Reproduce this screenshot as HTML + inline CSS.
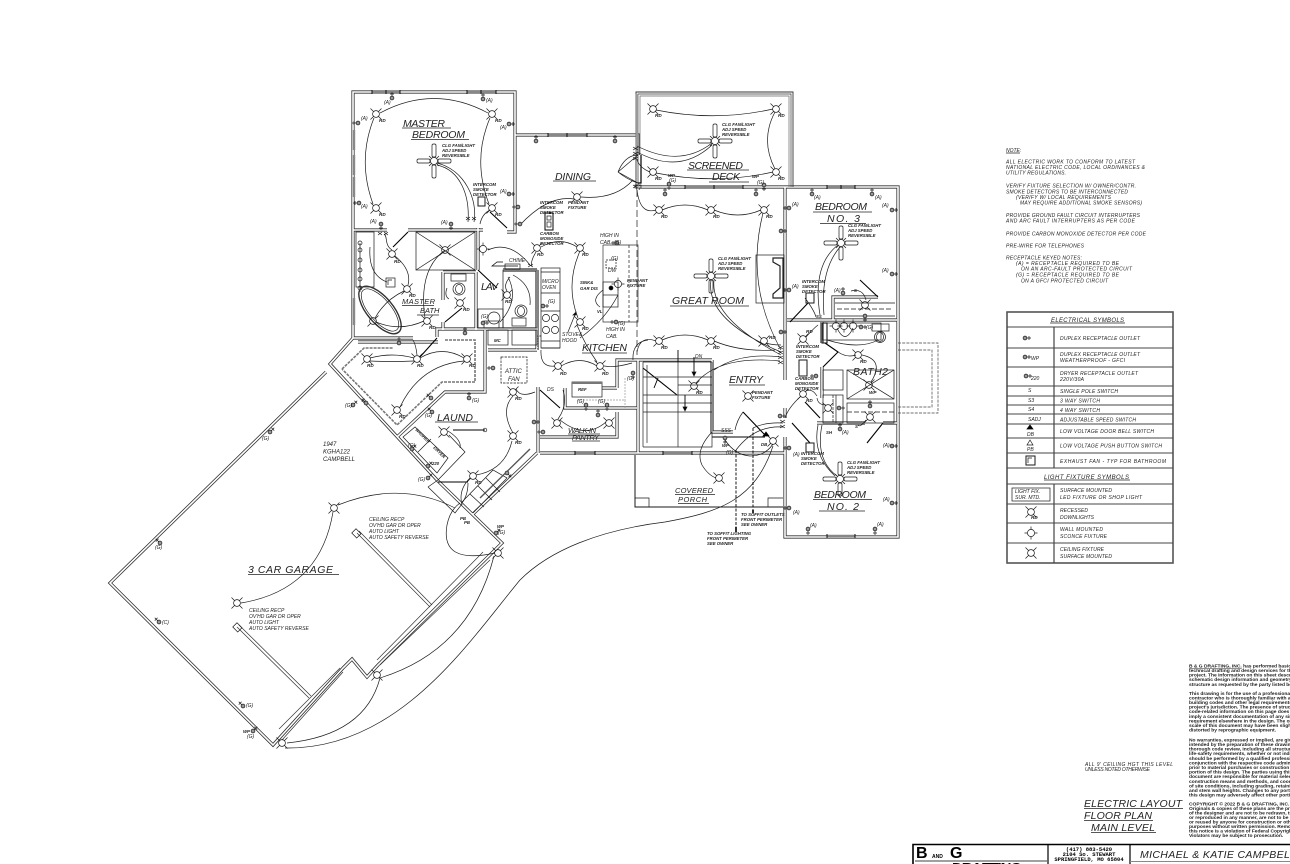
<!DOCTYPE html>
<html><head><meta charset="utf-8"><title>Electric Layout</title>
<style>
html,body{margin:0;padding:0;background:#fff;width:1290px;height:864px;overflow:hidden}
svg{display:block}
text{font-family:"Liberation Sans",sans-serif;font-style:italic;fill:#222;stroke:none}
.l{font-size:10.5px}
.m{font-size:7.5px}
.n{font-size:5px}
.s{font-size:4.3px;font-weight:bold}
.r{font-size:4.6px;font-weight:bold}
.g{font-size:6px}
.c{font-size:5px}
.k{font-size:4.9px;font-style:normal;font-weight:bold;fill:#222}
</style></head><body>
<svg width="1290" height="864" viewBox="0 0 1290 864" xmlns="http://www.w3.org/2000/svg">
<defs>
<g id="r"><circle r="3.4"/><path d="M-2.4,-2.4L-5.5,-5.5M2.4,-2.4L5.5,-5.5M-2.4,2.4L-5.5,5.5M2.4,2.4L5.5,5.5"/></g>
<g id="sc"><circle r="3.6"/><path d="M0,-3.6V-6.5M0,3.6V6.5M-3.6,0H-6.5M3.6,0H6.5"/></g>
<g id="fan"><circle r="3.6" fill="#fff"/><path d="M-2.6,-2.6L-5,-5M2.6,-2.6L5,-5M-2.6,2.6L-5,5M2.6,2.6L5,5"/><rect x="-17" y="-2" width="13" height="4" rx="1.5"/><rect x="4" y="-2" width="13" height="4" rx="1.5"/><rect x="-2" y="-17" width="4" height="13" rx="1.5"/><rect x="-2" y="4" width="4" height="13" rx="1.5"/></g>
<g id="o"><circle r="1.9" fill="#999"/><path d="M2,0H6M4,-2V2" stroke-width=".7"/></g>
<path id="W" d="M353,338V92H515V135H638V155M638,185V190M515,135V232H507M353,230H387M408,230H483M478,228V270M443,272V300M443,322V330M443,272H476M476,272V330M437,337V329H537M353,338H413M485,330V392H445L397,437M353,338L330,364L438,481M358,342H438M537,270V350M503,270H537M488,350H537M538,387V453M540,453H635M635,453H785M617,388V360H640M602,388H617M565,388V408H637M617,412V437H540M638,360V453M712,360H640M712,360V432H733M785,187V380M785,408V418M785,437V537H898V187H636M833,320V297H878M860,320H787M833,320H897M822,322V343M822,367V398M817,423H865M883,423H897M473,514L537,453M438,481L502,543L378,665L367,677L352,659L343,668L273,745L110,583L326,372"/>
</defs>
<rect width="1290" height="864" fill="#fff"/>
<g fill="none" stroke="#1a1a1a" stroke-width=".7" stroke-linejoin="miter">

<!-- walls -->
<use href="#W" stroke="#333" stroke-width="3.2"/>
<use href="#W" stroke="#fff" stroke-width="1.6"/>

<!-- screened deck -->
<path d="M636,187V92H793V187" stroke="#333" stroke-width=".9"/>
<path d="M638,187V94H791V187" stroke="#333" stroke-width=".7"/>
<path d="M640,155V96H789V187" stroke="#666" stroke-width=".7"/>
<path d="M637,94V155" stroke="#999" stroke-width="2.5"/>

<!-- dashed great room left, porch -->
<path d="M637,190V355" stroke-dasharray="7 3" stroke-width=".7"/>
<path d="M635,455V507H783" stroke-width="1"/>
<path d="M635,498H649V507M768,507V498H783"/>
<rect x="635" y="185" width="6" height="3" />
<path d="M641,155V183H638" stroke="#000" stroke-width="1.2"/>

<!-- hatch wing -->
<path d="M342,369L364,348H393M445,340H475V382H442L397,425L342,369" stroke="#777" stroke-width="1.6" stroke-dasharray="3 1"/>

<!-- right dashed add-on -->
<path d="M898,343H938V413H898M898,350H932V407H898" stroke-dasharray="3 1.2" stroke="#444"/>

<!-- heavy door leaves -->
<path d="M408,232L393,247M490,212L507,228M462,308L445,322M420,357L437,338M478,270L497,288M453,430H485M438,482H468M540,390L560,408M743,412L765,435M712,437H765M860,280L878,297M790,322L808,303M825,343L838,352L823,367M805,402L820,418M792,423L810,443M867,443L883,423M643,368L677,395" stroke="#000" stroke-width="1.1"/>
<path d="M618,172Q625,155 638,155M618,172Q628,180 638,183M618,172L638,155M618,172L638,183" stroke-width=".7"/>
<path d="M743,412Q737,420 735,430"/>

<!-- windows -->
<path d="M372,92H400M467,92H496M548,135H587M685,187H743M827,187H855M827,536H855M575,453H595M663,453H692M354,130V150M354,155V175M354,177V197M354,298V325" stroke="#888" stroke-width="2.4"/>
<path d="M372,90V94M386,90V94M400,90V94M467,90V94M481,90V94M496,90V94M548,133V137M567,133V137M587,133V137M685,185V189M714,185V189M743,185V189M827,185V189M841,185V189M855,185V189M827,534V538M855,534V538M575,451V455M595,451V455M663,451V455M692,451V455" stroke="#000" stroke-width=".9"/>

<!-- bath shower -->
<rect x="416" y="232" width="59" height="38"/><path d="M416,232L475,270M475,232L416,270"/>
<rect x="356" y="232" width="18" height="55"/>
<path d="M360,243V292"/>
<circle cx="360" cy="243" r="2"/><circle cx="360" cy="250" r="2"/><circle cx="360" cy="260" r="2"/><circle cx="360" cy="270" r="2"/><circle cx="360" cy="279" r="2"/><circle cx="360" cy="288" r="2"/>
<rect x="386" y="278" width="9" height="9"/><path d="M388,285V280H392"/>
<ellipse cx="380" cy="310" rx="29" ry="13" transform="rotate(50 380 310)" stroke-width="1.4" stroke="#333"/>
<ellipse cx="380" cy="310" rx="26" ry="11" transform="rotate(50 380 310)"/>
<!-- toilets / lav -->
<rect x="451" y="274" width="15" height="7"/><circle cx="459" cy="289" r="6"/><ellipse cx="459" cy="289" rx="3.5" ry="4.5"/>
<path d="M447,288Q444,296 449,299"/>
<rect x="478" y="309" width="25" height="19"/><rect x="484" y="321" width="15" height="7"/><circle cx="494" cy="318" r="6"/>
<rect x="512" y="318" width="14" height="8"/><circle cx="521" cy="311" r="6"/><ellipse cx="521" cy="311" rx="3.5" ry="4.5"/>
<rect x="503" y="270" width="34" height="58"/>
<rect x="505" y="264" width="15" height="5"/>
<path d="M503,262H497L492,266H518" stroke="#000"/>
<!-- MC -->
<rect x="488" y="330" width="20" height="15"/><rect x="512" y="330" width="25" height="15"/>
<rect x="501" y="357" width="26" height="26" stroke-dasharray="2.5 1"/>
<!-- kitchen cabinets -->
<rect x="541" y="268" width="19" height="80"/>
<path d="M541,272H560M541,293H560M541,311H560M541,341H560M541,348H560"/>
<circle cx="546" cy="318" r="3.6"/><circle cx="555" cy="318" r="3.6"/><circle cx="546" cy="330" r="3.6"/><circle cx="555" cy="330" r="3.6"/>
<path d="M541,336H538V350" stroke="#555" stroke-dasharray="1.5 1" stroke-width="1.5"/>
<path d="M568,332L576,312" /><path d="M576,312l-3,3h3z" fill="#000"/>
<!-- island -->
<path d="M603,245H638V322H603V245" stroke="#333"/>
<path d="M629,245V322" stroke-dasharray="3 2"/>
<rect x="603" y="282" width="15" height="25"/><path d="M603,295H618"/><circle cx="611" cy="288" r="2" fill="#000"/>
<rect x="606" y="260" width="10" height="8" stroke-dasharray="2 1"/>
<rect x="545" y="213" width="8" height="17" stroke-width="1.1"/><rect x="547" y="216" width="4" height="4"/><rect x="547" y="222" width="4" height="5"/>
<rect x="478" y="197" width="7" height="9" stroke-width="1"/><rect x="806" y="293" width="8" height="10" stroke-width="1"/><rect x="799" y="360" width="8" height="16" stroke-width="1"/><rect x="806" y="443" width="8" height="9" stroke-width="1"/>

<!-- laundry -->
<path d="M403,437L415,427L448,458L437,473ZM418,452L431,439M449,435L465,452L438,480M428,487L455,513L462,504M428,487L438,480"/>
<circle cx="485" cy="430" r="1.8"/>
<path d="M462,502L493,470L507,478L473,513M470,494L484,507M478,486L492,500M486,478L500,492"/>
<path d="M480,498L530,449" stroke="#555" stroke-width="1.4"/>

<!-- ref / pantry -->
<rect x="572" y="382" width="30" height="15"/><path d="M572,383H602" stroke="#777" stroke-width="2"/>
<path d="M577,400H625V408M625,378V402" stroke="#999" stroke-dasharray="2 1"/>
<!-- stairs -->
<path d="M643,362H712M643,447H712V362M643,362V447M678,362V447M643,377H678M643,395H678M643,403H678M643,412H678M678,377H712M678,385H712M678,395H712M678,403H712M678,412H712M647,365V443" stroke="#222"/>
<path d="M678,350V362M694,357V375M685,395V410M658,378L654,388" stroke="#000" stroke-width=".9"/>
<path d="M694,376l-2,-4h4zM685,411l-2,-4h4z" fill="#000"/>
<!-- fireplace -->
<rect x="756" y="255" width="28" height="48"/>
<path d="M773,258H783V298H773V294L780,288V266L773,262Z" stroke="#222" stroke-width="1.2"/>
<!-- bath 2 & bed 3 closet -->
<path d="M835,303H895M835,316H895"/><path d="M837,309H893" stroke-dasharray="5 2"/>
<rect x="823" y="323" width="58" height="17"/><rect x="822" y="323" width="5" height="20" stroke-width="1.1"/>
<rect x="872" y="324" width="17" height="7"/><circle cx="880" cy="337" r="5.5"/><ellipse cx="880" cy="337" rx="3.5" ry="4.5"/>
<rect x="847" y="370" width="47" height="29"/><path d="M847,370L894,399M894,370L847,399"/>
<rect x="823" y="370" width="20" height="20"/><rect x="823" y="395" width="20" height="28"/><path d="M833,395V423" stroke-dasharray="3 1"/><path d="M836,395V423"/>
<rect x="847" y="403" width="47" height="20"/><path d="M847,412H894" stroke-dasharray="5 2"/>
<!-- garage interior -->
<path d="M279,729L340,668M282,740L343,672M377,660L483,552M380,665L490,560" stroke="#333"/>
<path d="M357,533L430,607M359,531L432,605M237,627L309,698M239,625L311,696" stroke="#333"/>
<rect x="353" y="530" width="7" height="6" transform="rotate(45 356 533)"/><rect x="234" y="624" width="7" height="6" transform="rotate(45 237 627)"/>

<!-- wires -->
<path d="M380,113Q434,84 488,113M374,118Q357,160 373,204M490,118Q472,160 489,204M437,165C460,170 470,195 468,222M437,163C465,170 478,200 474,222M490,210Q482,214 480,224M392,250C384,245 388,236 384,234M395,256Q412,270 408,285M404,291Q385,300 375,318M376,322Q400,332 424,321M445,250Q418,270 425,318M370,247Q368,275 387,282M414,358Q392,352 370,358M414,361Q392,362 370,361M420,358Q442,345 464,358M417,355Q416,345 413,340M464,361Q420,365 400,407M488,250Q510,240 530,265M536,252Q530,262 532,266M541,247Q560,236 577,247M580,251Q565,285 578,318M510,277Q503,285 507,291M508,277Q520,300 500,322M513,275Q532,285 530,305M574,199Q548,195 520,225M581,197Q615,200 633,180M541,350Q540,368 555,366M561,366Q580,355 597,366M604,366Q615,368 632,363M577,325Q585,345 597,362M618,295Q605,320 580,338M603,290Q590,300 600,307M633,360Q632,342 648,340M637,352Q640,335 656,341M662,340Q685,330 708,340M714,341Q740,352 775,350M637,190Q640,215 656,210M662,210Q685,200 708,210M714,210Q738,220 761,210M763,213Q745,285 781,350M711,280Q705,320 781,352M714,280Q710,318 781,355M766,343Q772,345 781,345M714,370Q740,352 781,357M696,383Q720,355 780,361M656,110Q715,122 773,109M775,112Q760,140 775,169M656,173Q715,185 773,172M712,143Q680,168 637,146M712,145Q680,175 637,152M650,172Q640,168 637,160M838,245Q812,265 820,315M840,247Q820,270 824,315M805,298Q814,310 816,317M851,291Q863,288 866,300M806,337Q814,328 818,325M837,328Q845,345 853,328M827,340Q860,350 878,340M838,352Q847,358 856,355M862,355Q885,360 871,382M773,444Q765,456 750,456Q735,455 725,440M783,423Q765,422 753,428M783,427Q755,425 736,450M773,446C755,500 720,512 665,522C600,530 550,550 520,580C470,640 400,750 285,748M380,678Q470,650 494,556M287,743Q365,735 380,678M495,553Q440,565 447,525Q450,510 460,503M338,505Q400,480 455,508M333,512Q320,590 241,603M476,475Q505,470 512,441M513,433Q500,410 513,396M516,389Q520,398 535,392M470,478Q458,490 462,505M468,483Q468,495 462,503M448,431Q462,440 460,448M560,420Q585,440 606,422M558,419Q568,405 563,390M712,432Q695,450 702,465Q708,475 716,478M801,396Q788,408 785,418M826,405Q818,405 817,398M866,420Q860,428 858,425M837,476Q815,460 822,425M835,476Q812,455 818,425M806,391Q812,388 817,396"/>
<path d="M736,450V527M753,428V510" stroke="#000" stroke-dasharray="3 1.5" stroke-width=".9"/>
<path d="M736,527V532M753,510V513" stroke="#000" stroke-width="1.6"/>
<!-- switch clusters -->
<path d="M778,346l5,3m-5,0l5,-3M778,351l5,3m-5,0l5,-3M778,356l5,3m-5,0l5,-3M778,361l5,3m-5,0l5,-3M633,147l5,3m-5,0l5,-3M633,152l5,3m-5,0l5,-3M633,157l5,3m-5,0l5,-3M633,185l5,3m-5,0l5,-3M528,264l5,3m-5,0l5,-3M780,420l5,3m-5,0l5,-3M780,425l5,3m-5,0l5,-3M466,217l4,3m-4,0l4,-3M472,217l4,3m-4,0l4,-3M378,232l4,3m-4,0l4,-3M384,232l4,3m-4,0l4,-3"/>

<!-- fixtures -->
<use href="#fan" x="434" y="161"/><use href="#fan" x="715" y="141"/><use href="#fan" x="711" y="276"/><use href="#fan" x="841" y="243"/><use href="#fan" x="840" y="479"/>
<use href="#r" x="376" y="114"/><use href="#r" x="492" y="114"/><use href="#r" x="376" y="208"/><use href="#r" x="492" y="208"/><use href="#r" x="392" y="254"/><use href="#r" x="407" y="289"/><use href="#r" x="427" y="321"/><use href="#r" x="373" y="321"/><use href="#r" x="460" y="303"/><use href="#r" x="507" y="295"/><use href="#r" x="537" y="248"/><use href="#r" x="580" y="248"/><use href="#r" x="580" y="322"/><use href="#r" x="558" y="366"/><use href="#r" x="600" y="366"/><use href="#r" x="417" y="359"/><use href="#r" x="367" y="359"/><use href="#r" x="467" y="359"/><use href="#r" x="577" y="197"/>
<use href="#r" x="653" y="109"/><use href="#r" x="776" y="109"/><use href="#r" x="653" y="172"/><use href="#r" x="776" y="172"/><use href="#r" x="659" y="210"/><use href="#r" x="711" y="210"/><use href="#r" x="764" y="210"/><use href="#r" x="659" y="341"/><use href="#r" x="711" y="341"/><use href="#r" x="764" y="341"/><use href="#r" x="803" y="339"/><use href="#r" x="858" y="355"/><use href="#r" x="803" y="394"/><use href="#r" x="694" y="386"/><use href="#r" x="748" y="396"/><use href="#r" x="773" y="441"/><use href="#r" x="719" y="478"/><use href="#r" x="557" y="423"/><use href="#r" x="609" y="423"/>
<use href="#r" x="334" y="508"/><use href="#r" x="237" y="603"/><use href="#r" x="377" y="675"/><use href="#r" x="282" y="743"/><use href="#r" x="498" y="553"/><use href="#r" x="444" y="432"/><use href="#r" x="397" y="410"/><use href="#r" x="513" y="392"/><use href="#r" x="513" y="436"/><use href="#r" x="473" y="476"/><use href="#r" x="869" y="385"/><use href="#r" x="445" y="250"/><use href="#r" x="865" y="305"/><use href="#r" x="870" y="417"/><use href="#r" x="828" y="408"/>
<use href="#sc" x="483" y="249"/><use href="#sc" x="836" y="326"/><use href="#sc" x="844" y="326"/><use href="#sc" x="853" y="326"/><use href="#sc" x="618" y="284"/>

<!-- outlets -->
<g>
<use href="#o" transform="translate(392,98) rotate(-90)"/><use href="#o" transform="translate(483,99) rotate(-90)"/><use href="#o" transform="translate(358,123) rotate(180)"/><use href="#o" transform="translate(509,124)"/><use href="#o" transform="translate(359,203) rotate(180)"/><use href="#o" transform="translate(509,194)"/><use href="#o" transform="translate(381,224) rotate(90)"/><use href="#o" transform="translate(451,224) rotate(90)"/>
<use href="#o" transform="translate(536,141) rotate(-90)"/><use href="#o" transform="translate(615,141) rotate(-90)"/><use href="#o" transform="translate(518,207) rotate(180)"/><use href="#o" transform="translate(520,224) rotate(180)"/><use href="#o" transform="translate(399,343) rotate(-90)"/><use href="#o" transform="translate(465,333) rotate(-90)"/><use href="#o" transform="translate(483,323)"/><use href="#o" transform="translate(543,306)"/><use href="#o" transform="translate(493,368) rotate(180)"/>
<use href="#o" transform="translate(669,184) rotate(90)"/><use href="#o" transform="translate(764,185) rotate(90)"/><use href="#o" transform="translate(665,194) rotate(-90)"/><use href="#o" transform="translate(756,194) rotate(-90)"/><use href="#o" transform="translate(781,231)"/><use href="#o" transform="translate(781,332)"/>
<use href="#o" transform="translate(812,194) rotate(-90)"/><use href="#o" transform="translate(872,194) rotate(-90)"/><use href="#o" transform="translate(789,208) rotate(180)"/><use href="#o" transform="translate(892,210)"/><use href="#o" transform="translate(892,274)"/><use href="#o" transform="translate(789,290) rotate(180)"/><use href="#o" transform="translate(843,293) rotate(-90)"/><use href="#o" transform="translate(865,316) rotate(90)"/><use href="#o" transform="translate(861,327)"/>
<use href="#o" transform="translate(789,448) rotate(180)"/><use href="#o" transform="translate(892,446)"/><use href="#o" transform="translate(892,503)"/><use href="#o" transform="translate(789,508) rotate(180)"/><use href="#o" transform="translate(808,529) rotate(90)"/><use href="#o" transform="translate(875,529) rotate(90)"/><use href="#o" transform="translate(840,429) rotate(-90)"/><use href="#o" transform="translate(839,408)"/><use href="#o" transform="translate(870,406) rotate(-90)"/><use href="#o" transform="translate(816,376) rotate(180)"/>
<use href="#o" transform="translate(270,432) rotate(-45)"/><use href="#o" transform="translate(160,543) rotate(-135)"/><use href="#o" transform="translate(159,622) rotate(-135)"/><use href="#o" transform="translate(243,706) rotate(-135)"/><use href="#o" transform="translate(253,731) rotate(-45)"/><use href="#o" transform="translate(496,533) rotate(-45)"/><use href="#o" transform="translate(353,405) rotate(-45)"/><use href="#o" transform="translate(366,403) rotate(-135)"/><use href="#o" transform="translate(431,398) rotate(-135)"/><use href="#o" transform="translate(432,412) rotate(-135)"/><use href="#o" transform="translate(469,398) rotate(-90)"/><use href="#o" transform="translate(412,449) rotate(-45)"/><use href="#o" transform="translate(428,466) rotate(-45)"/><use href="#o" transform="translate(428,478) rotate(-45)"/><use href="#o" transform="translate(507,473) rotate(45)"/>
<use href="#o" transform="translate(534,422)"/><use href="#o" transform="translate(543,432) rotate(180)"/><use href="#o" transform="translate(598,415) rotate(-90)"/><use href="#o" transform="translate(586,405) rotate(90)"/><use href="#o" transform="translate(607,405) rotate(90)"/><use href="#o" transform="translate(633,373) rotate(90)"/><use href="#o" transform="translate(725,438) rotate(90)"/><use href="#o" transform="translate(780,416)"/>
<use href="#o" transform="translate(617,243) rotate(180)"/><use href="#o" transform="translate(616,322) rotate(180)"/>
</g>
<path d="M766,432l3,4h-6z" fill="#000" stroke="#000"/>

<!-- legend table -->
<rect x="1007" y="312" width="166" height="251" stroke="#555" stroke-width="1.6"/>
<path d="M1007,327H1173M1007,348H1173M1007,367H1173M1007,386H1173M1007,396H1173M1007,405H1173M1007,414H1173M1007,424H1173M1007,438H1173M1007,453H1173M1007,468H1173M1007,484H1173M1007,504H1173M1007,523H1173M1007,543H1173" stroke="#444" stroke-width=".9"/>
<path d="M1054,327V468M1054,484V563" stroke="#444" stroke-width="1.2"/>
<use href="#o" x="1025" y="338"/><use href="#o" x="1025" y="357"/><use href="#o" x="1026" y="376"/>
<path d="M1030,440l-3,5h6z"/>
<path d="M1030,425l-3,4h6z" fill="#000" stroke="#000"/>
<rect x="1026" y="456" width="9" height="9" stroke-width="1"/><path d="M1028,463V458H1032"/>
<rect x="1012" y="488" width="38" height="13"/>
<use href="#r" x="1031" y="512"/><use href="#sc" x="1031" y="533"/><use href="#r" x="1031" y="553"/>

<!-- underlines -->
<path stroke="#222" d="M402,128H451M411,139.5H469M553,181H596M402,305.5H434M417,315H439M670,306H749M687,170H749M709,182H749M813,212H872M820,223.5H866M582,353H627M729,385H765M568,434H600M572,441H600M675,494.5H715M678,503.5H709M813,499.5H872M819,511H865M435,422H478M248,574.5H339M1084,808.5H1183M1084,820.5H1153M1091,832.5H1156M1050,323H1125M1044,480H1130M1006,153H1020"/>

<!-- title block -->
<path d="M913,864V844.5H1290" stroke="#000" stroke-width="1.6"/>
<path d="M1048,845V864M1130,845V864" stroke="#000" stroke-width="1.2"/>
<path d="M915,861H1047" stroke="#000" stroke-width=".8"/>
<path d="M1130,861.5H1290" stroke="#888" stroke-width="1"/>
</g>

<!-- room labels -->
<text class="l" x="403" y="127" textLength="42">MASTER</text>
<text class="l" x="412" y="138" textLength="53">BEDROOM</text>
<text class="l" x="555" y="180" textLength="36">DINING</text>
<text class="m" x="402" y="304" textLength="33">MASTER</text>
<text class="m" x="420" y="313">BATH</text>
<text class="l" x="481" y="290" textLength="17">LAV</text>
<text class="l" x="582" y="351" textLength="45">KITCHEN</text>
<text class="l" x="672" y="304" textLength="72">GREAT ROOM</text>
<text class="l" x="688" y="169" textLength="55">SCREENED</text>
<text class="l" x="712" y="180" textLength="28">DECK</text>
<text class="l" x="815" y="210" textLength="52">BEDROOM</text>
<text class="l" x="827" y="222" textLength="33">NO. 3</text>
<text class="l" x="729" y="383" textLength="34">ENTRY</text>
<text class="l" x="853" y="375" textLength="35">BATH2</text>
<text class="m" x="568" y="433" textLength="28">WALK-IN</text>
<text class="m" x="572" y="440" textLength="27">PANTRY</text>
<text class="m" x="675" y="493" textLength="38">COVERED</text>
<text class="m" x="678" y="502" textLength="29">PORCH</text>
<text class="l" x="814" y="498" textLength="52">BEDROOM</text>
<text class="l" x="827" y="510" textLength="32">NO. 2</text>
<text class="l" x="437" y="421" textLength="36">LAUND</text>
<text class="l" x="248" y="573" textLength="85">3 CAR GARAGE</text>
<text class="g" x="323" y="446">1947</text>
<text class="g" x="323" y="453.5">KGHA122</text>
<text class="g" x="323" y="461">CAMPBELL</text>
<text class="g" x="505" y="373">ATTIC</text>
<text class="g" x="508" y="381">FAN</text>
<text class="c" x="542" y="283">MICRO</text><text class="c" x="542" y="289">OVEN</text>
<text class="s" x="580" y="284">SINK&amp;</text><text class="s" x="580" y="290">GAR DIS</text>
<text class="c" x="600" y="237">HIGH IN</text><text class="c" x="600" y="244">CAB.</text>
<text class="c" x="606" y="331">HIGH IN</text><text class="c" x="606" y="338">CAB.</text>
<text class="c" x="562" y="336">STOVE&amp;</text><text class="c" x="562" y="342">HOOD</text>
<text class="c" x="509" y="262">CHIME</text>
<text class="s" x="494" y="342">MC</text>
<text class="s" x="578" y="391">REF</text>
<text class="c" x="608" y="272">DW</text>
<text class="s" x="597" y="313">VL</text>
<text class="c" x="547" y="391">DS</text>
<text class="c" x="695" y="358">DN</text>
<text class="c" x="721" y="432">SSS</text>
<text class="s" x="761" y="446">DB</text>

<text class="s" x="442" y="147">CLG FAN/LIGHT</text><text class="s" x="442" y="152">ADJ SPEED</text><text class="s" x="442" y="157">REVERSIBLE</text>
<text class="s" x="722" y="126">CLG FAN/LIGHT</text><text class="s" x="722" y="131">ADJ SPEED</text><text class="s" x="722" y="136">REVERSIBLE</text>
<text class="s" x="718" y="260">CLG FAN/LIGHT</text><text class="s" x="718" y="265">ADJ SPEED</text><text class="s" x="718" y="270">REVERSIBLE</text>
<text class="s" x="848" y="227">CLG FAN/LIGHT</text><text class="s" x="848" y="232">ADJ SPEED</text><text class="s" x="848" y="237">REVERSIBLE</text>
<text class="s" x="847" y="464">CLG FAN/LIGHT</text><text class="s" x="847" y="469">ADJ SPEED</text><text class="s" x="847" y="474">REVERSIBLE</text>
<text class="s" x="473" y="186">INTERCOM</text><text class="s" x="473" y="191">SMOKE</text><text class="s" x="473" y="196">DETECTOR</text>
<text class="s" x="540" y="204">INTERCOM</text><text class="s" x="540" y="209">SMOKE</text><text class="s" x="540" y="214">DETECTOR</text>
<text class="s" x="540" y="235">CARBON</text><text class="s" x="540" y="240">MONOXIDE</text><text class="s" x="540" y="245">DETECTOR</text>
<text class="s" x="568" y="204">PENDANT</text><text class="s" x="568" y="209">FIXTURE</text>
<text class="s" x="627" y="282">PENDANT</text><text class="s" x="627" y="287">FIXTURE</text>
<text class="s" x="752" y="394">PENDANT</text><text class="s" x="752" y="399">FIXTURE</text>
<text class="s" x="802" y="283">INTERCOM</text><text class="s" x="802" y="288">SMOKE</text><text class="s" x="802" y="293">DETECTOR</text>
<text class="s" x="796" y="348">INTERCOM</text><text class="s" x="796" y="353">SMOKE</text><text class="s" x="796" y="358">DETECTOR</text>
<text class="s" x="795" y="380">CARBON</text><text class="s" x="795" y="385">MONOXIDE</text><text class="s" x="795" y="390">DETECTOR</text>
<text class="s" x="801" y="455">INTERCOM</text><text class="s" x="801" y="460">SMOKE</text><text class="s" x="801" y="465">DETECTOR</text>
<text class="s" x="741" y="516">TO SOFFIT OUTLETS</text><text class="s" x="741" y="521">FRONT PERIMETER</text><text class="s" x="741" y="526">SEE OWNER</text>
<text class="s" x="707" y="535">TO SOFFIT LIGHTING</text><text class="s" x="707" y="540">FRONT PERIMETER</text><text class="s" x="707" y="545">SEE OWNER</text>
<text class="c" x="369" y="521">CEILING RECP</text><text class="c" x="369" y="527">OV'HD GAR DR OPER</text><text class="c" x="369" y="533">AUTO LIGHT</text><text class="c" x="369" y="539">AUTO SAFETY REVERSE</text>
<text class="c" x="249" y="612">CEILING RECP</text><text class="c" x="249" y="618">OV'HD GAR DR OPER</text><text class="c" x="249" y="624">AUTO LIGHT</text><text class="c" x="249" y="630">AUTO SAFETY REVERSE</text>
<text class="s" x="415" y="430" transform="rotate(45 415 430)">WASHER</text>
<text class="s" x="433" y="448" transform="rotate(45 433 448)">DRYER</text>
<text class="s" x="432" y="465">220</text>

<!-- outlet letters -->
<text class="c" x="384" y="104">(A)</text><text class="c" x="486" y="102">(A)</text><text class="c" x="361" y="120">(A)</text><text class="c" x="500" y="129">(A)</text><text class="c" x="361" y="208">(A)</text><text class="c" x="500" y="193">(A)</text><text class="c" x="370" y="223">(A)</text><text class="c" x="441" y="224">(A)</text>
<text class="c" x="814" y="199">(A)</text><text class="c" x="875" y="199">(A)</text><text class="c" x="792" y="206">(A)</text><text class="c" x="882" y="207">(A)</text><text class="c" x="882" y="272">(A)</text><text class="c" x="792" y="288">(A)</text><text class="c" x="834" y="292">(A)</text><text class="c" x="793" y="456">(A)</text><text class="c" x="883" y="447">(A)</text><text class="c" x="883" y="501">(A)</text><text class="c" x="793" y="514">(A)</text><text class="c" x="810" y="527">(A)</text><text class="c" x="877" y="526">(A)</text><text class="c" x="842" y="434">(A)</text>
<text class="c" x="614" y="244">(G)</text><text class="c" x="618" y="325">(G)</text><text class="c" x="611" y="260">(G)</text><text class="c" x="548" y="303">(G)</text><text class="c" x="481" y="318">(G)</text><text class="c" x="262" y="440">(G)</text><text class="c" x="155" y="549">(G)</text><text class="c" x="162" y="624">(C)</text><text class="c" x="246" y="707">(G)</text><text class="c" x="247" y="738">(G)</text><text class="c" x="498" y="534">(G)</text><text class="c" x="345" y="407">(G)</text><text class="c" x="425" y="417">(G)</text><text class="c" x="472" y="402">(G)</text><text class="c" x="408" y="447">(G)</text><text class="c" x="418" y="481">(G)</text><text class="c" x="577" y="403">(G)</text><text class="c" x="598" y="403">(G)</text><text class="c" x="627" y="380">(G)</text><text class="c" x="726" y="454">(G)</text><text class="c" x="669" y="182">(G)</text><text class="c" x="757" y="184">(G)</text><text class="c" x="866" y="329">(G)</text>
<text class="s" x="668" y="177">WP</text><text class="s" x="752" y="178">WP</text><text class="s" x="497" y="528">WP</text><text class="s" x="243" y="733">WP</text><text class="s" x="722" y="447">WP</text>
<text class="s" x="460" y="520">PB</text><text class="s" x="464" y="524">PB</text><text class="s" x="816" y="318">SS</text><text class="s" x="826" y="434">SH</text><text class="s" x="854" y="292">S</text><text class="s" x="855" y="428">S</text>

<!-- RD labels -->
<g>
<text class="r" x="379" y="122">RD</text><text class="r" x="495" y="122">RD</text><text class="r" x="379" y="216">RD</text><text class="r" x="495" y="216">RD</text><text class="r" x="394" y="263">RD</text><text class="r" x="409" y="297">RD</text><text class="r" x="429" y="329">RD</text><text class="r" x="463" y="311">RD</text><text class="r" x="505" y="303">RD</text><text class="r" x="537" y="256">RD</text><text class="r" x="582" y="256">RD</text><text class="r" x="582" y="330">RD</text><text class="r" x="560" y="375">RD</text><text class="r" x="602" y="375">RD</text><text class="r" x="417" y="367">RD</text><text class="r" x="367" y="367">RD</text><text class="r" x="469" y="367">RD</text>
<text class="r" x="655" y="117">RD</text><text class="r" x="778" y="117">RD</text><text class="r" x="655" y="180">RD</text><text class="r" x="778" y="180">RD</text><text class="r" x="661" y="218">RD</text><text class="r" x="713" y="218">RD</text><text class="r" x="766" y="218">RD</text><text class="r" x="661" y="349">RD</text><text class="r" x="713" y="349">RD</text><text class="r" x="769" y="339">RD</text><text class="r" x="806" y="333">RD</text><text class="r" x="860" y="363">RD</text><text class="r" x="806" y="402">RD</text><text class="r" x="696" y="394">RD</text>
<text class="r" x="399" y="418">RD</text><text class="r" x="515" y="400">RD</text><text class="r" x="515" y="444">RD</text><text class="r" x="475" y="484">RD</text><text class="r" x="869" y="394">WP</text>
</g>

<!-- notes -->
<g>
<text class="c" x="1006" y="152">NOTE:</text>
<text class="c" x="1006" y="163.3" textLength="129">ALL ELECTRIC WORK TO CONFORM TO LATEST</text>
<text class="c" x="1006" y="169" textLength="139">NATIONAL ELECTRIC CODE, LOCAL ORDINANCES &amp;</text>
<text class="c" x="1006" y="174.7" textLength="60">UTILITY REGULATIONS.</text>
<text class="c" x="1006" y="187.3" textLength="130">VERIFY FIXTURE SELECTION W/ OWNER/CONTR.</text>
<text class="c" x="1006" y="193.3" textLength="122">SMOKE DETECTORS TO BE INTERCONNECTED</text>
<text class="c" x="1016" y="199" textLength="95">(VERIFY W/ LOCAL REQUIREMENTS</text>
<text class="c" x="1020" y="204.7" textLength="122">MAY REQUIRE ADDITIONAL SMOKE SENSORS)</text>
<text class="c" x="1006" y="217" textLength="134">PROVIDE GROUND FAULT CIRCUIT INTERRUPTERS</text>
<text class="c" x="1006" y="222.7" textLength="129">AND ARC FAULT INTERRUPTERS AS PER CODE</text>
<text class="c" x="1006" y="235.3" textLength="140">PROVIDE CARBON MONOXIDE DETECTOR PER CODE</text>
<text class="c" x="1006" y="247.3" textLength="78">PRE-WIRE FOR TELEPHONES</text>
<text class="c" x="1006" y="259.3" textLength="76">RECEPTACLE KEYED NOTES:</text>
<text class="c" x="1016" y="265" textLength="103">(A) = RECEPTACLE REQUIRED TO BE</text>
<text class="c" x="1021" y="270.7" textLength="111">ON AN ARC-FAULT PROTECTED CIRCUIT</text>
<text class="c" x="1016" y="276.7" textLength="103">(G) = RECEPTACLE REQUIRED TO BE</text>
<text class="c" x="1021" y="282.3" textLength="87">ON A GFCI PROTECTED CIRCUIT</text>
</g>

<!-- legend text -->
<g>
<text class="g" x="1051" y="322" textLength="73">ELECTRICAL SYMBOLS</text>
<text class="g" x="1044" y="479" textLength="85">LIGHT FIXTURE SYMBOLS</text>
<text class="c" x="1060" y="340" textLength="80">DUPLEX RECEPTACLE OUTLET</text>
<text class="c" x="1060" y="356" textLength="80">DUPLEX RECEPTACLE OUTLET</text>
<text class="c" x="1060" y="362" textLength="65">WEATHERPROOF - GFCI</text>
<text class="c" x="1060" y="375" textLength="78">DRYER RECEPTACLE OUTLET</text>
<text class="c" x="1060" y="381" textLength="24">220V/30A</text>
<text class="c" x="1060" y="393" textLength="58">SINGLE POLE SWITCH</text>
<text class="c" x="1060" y="402.5" textLength="40">3 WAY SWITCH</text>
<text class="c" x="1060" y="412" textLength="40">4 WAY SWITCH</text>
<text class="c" x="1060" y="421.5" textLength="76">ADJUSTABLE SPEED SWITCH</text>
<text class="c" x="1060" y="433" textLength="94">LOW VOLTAGE DOOR BELL SWITCH</text>
<text class="c" x="1060" y="447.5" textLength="102">LOW VOLTAGE PUSH BUTTON SWITCH</text>
<text class="c" x="1060" y="463" textLength="106">EXHAUST FAN - TYP FOR BATHROOM</text>
<text class="c" x="1060" y="492" textLength="52">SURFACE MOUNTED</text>
<text class="c" x="1060" y="499" textLength="82">LED FIXTURE OR SHOP LIGHT</text>
<text class="c" x="1060" y="512" textLength="28">RECESSED</text>
<text class="c" x="1060" y="519" textLength="34">DOWNLIGHTS</text>
<text class="c" x="1060" y="531" textLength="43">WALL MOUNTED</text>
<text class="c" x="1060" y="538" textLength="47">SCONCE FIXTURE</text>
<text class="c" x="1060" y="551" textLength="44">CEILING FIXTURE</text>
<text class="c" x="1060" y="558" textLength="52">SURFACE MOUNTED</text>
<text class="c" x="1031" y="360">WP</text><text class="c" x="1031" y="380">220</text>
<text class="c" x="1028" y="392">S</text><text class="c" x="1028" y="402">S3</text><text class="c" x="1028" y="411">S4</text><text class="c" x="1028" y="421">SADJ</text>
<text class="c" x="1027" y="436">DB</text><text class="c" x="1027" y="451">PB</text>
<text class="c" x="1015" y="493">LIGHT FIX.</text><text class="c" x="1015" y="499">SUR. MTD.</text>
<text class="r" x="1031" y="519">RD</text>
</g>

<!-- drawing title -->
<text class="n" x="1085" y="766" textLength="88">ALL 9' CEILING HGT THIS LEVEL</text>
<text class="n" x="1085" y="771" textLength="65">UNLESS NOTED OTHERWISE</text>
<text class="l" x="1084" y="807" textLength="98">ELECTRIC LAYOUT</text>
<text class="l" x="1084" y="819" textLength="68">FLOOR PLAN</text>
<text class="l" x="1091" y="831" textLength="64">MAIN LEVEL</text>

<!-- legal -->
<g>
<text class="k" x="1189" y="667.5"><tspan text-decoration="underline">B &amp; G DRAFTING, INC.</tspan> has performed basic</text>
<text class="k" x="1189" y="672">technical drafting and design services for this</text>
<text class="k" x="1189" y="676.5">project.  The information on this sheet describes</text>
<text class="k" x="1189" y="681">schematic design information and geometry for</text>
<text class="k" x="1189" y="686">structure as requested by the party listed below.</text>
<text class="k" x="1189" y="695">This drawing is for the use of a professional</text>
<text class="k" x="1189" y="699.5">contractor who is thoroughly familiar with all</text>
<text class="k" x="1189" y="704">building codes and other legal requirements in</text>
<text class="k" x="1189" y="708.5">project's jurisdiction.  The presence of structural</text>
<text class="k" x="1189" y="713">code-related information on this page does not</text>
<text class="k" x="1189" y="718">imply a consistent documentation of any similar</text>
<text class="k" x="1189" y="722.5">requirement elsewhere in the design.  The original</text>
<text class="k" x="1189" y="727">scale of this document may have been slightly</text>
<text class="k" x="1189" y="731.5">distorted by reprographic equipment.</text>
<text class="k" x="1189" y="741.5">No warranties, expressed or implied, are given</text>
<text class="k" x="1189" y="746">intended by the preparation of these drawings.</text>
<text class="k" x="1189" y="750.5">thorough code review, including all structural and</text>
<text class="k" x="1189" y="755">life-safety requirements, whether or not indicated</text>
<text class="k" x="1189" y="760">should be performed by a qualified professional</text>
<text class="k" x="1189" y="764.5">conjunction with the respective code administrator</text>
<text class="k" x="1189" y="769">prior to material purchases or construction of</text>
<text class="k" x="1189" y="773.5">portion of this design.  The parties using this</text>
<text class="k" x="1189" y="778">document are responsible for material selection,</text>
<text class="k" x="1189" y="783">construction means and methods, and coordination</text>
<text class="k" x="1189" y="787.5">of site conditions, including grading, retaining</text>
<text class="k" x="1189" y="792">and stem wall heights.  Changes to any portion of</text>
<text class="k" x="1189" y="796.5">this design may adversely affect other portions.</text>
<text class="k" x="1189" y="805.5">COPYRIGHT © 2022   B &amp; G DRAFTING, INC.</text>
<text class="k" x="1189" y="810">Originals &amp; copies of these plans are the property</text>
<text class="k" x="1189" y="814.5">of the designer and are not to be redrawn, traced</text>
<text class="k" x="1189" y="819">or reproduced in any manner, are not to be used</text>
<text class="k" x="1189" y="823.5">or reused by anyone for construction or other</text>
<text class="k" x="1189" y="828">purposes without written permission.  Removal of</text>
<text class="k" x="1189" y="832.5">this notice is a violation of Federal Copyright law.</text>
<text class="k" x="1189" y="837">Violators may be subject to prosecution.</text>
</g>

<!-- title block text -->
<text x="916" y="858" style="font:bold 16px 'Liberation Sans',sans-serif;fill:#000">B</text>
<text x="932" y="858" style="font:bold 5px 'Liberation Sans',sans-serif;fill:#000">AND</text>
<text x="950" y="858" style="font:bold 16px 'Liberation Sans',sans-serif;fill:#000">G</text>
<text x="952" y="873" textLength="70" style="font:bold 15px 'Liberation Sans',sans-serif;fill:#000">DRAFTING</text>
<text x="1089" y="851" text-anchor="middle" style="font:bold 5.5px 'Liberation Mono',monospace;fill:#000">(417) 883-5420</text>
<text x="1089" y="856" text-anchor="middle" style="font:bold 5.5px 'Liberation Mono',monospace;fill:#000">2104 So. STEWART</text>
<text x="1089" y="861" text-anchor="middle" style="font:bold 5.5px 'Liberation Mono',monospace;fill:#000">SPRINGFIELD, MO 65804</text>
<text class="l" x="1140" y="858" textLength="156">MICHAEL &amp; KATIE CAMPBELL</text>
</svg>
</body></html>
